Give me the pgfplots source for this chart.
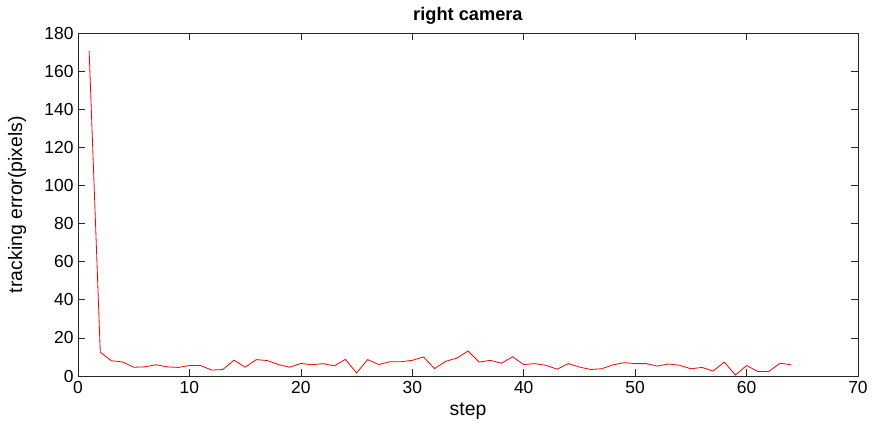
\documentclass[border=0pt]{standalone}
\usepackage{pgfplots}
\pgfplotsset{compat=1.18}
\usepackage{fontspec}
\setmainfont{Liberation Sans}
\definecolor{axgray}{RGB}{38,38,38}
\begin{document}
\begin{tikzpicture}
\useasboundingbox (-78bp,-47bp) rectangle (799bp,376bp);
\begin{axis}[
  at={(0,0)}, anchor=south west,
  scale only axis, width=780bp, height=343bp,
  xmin=0, xmax=70, ymin=0, ymax=180,
  xtick={0,10,...,70}, ytick={0,20,...,180},
  tick align=inside, major tick length=7bp,
  axis line style={axgray, line width=0.6bp},
  tick style={axgray, line width=0.6bp},
  every tick label/.append style={font=\fontsize{17.5}{20}\selectfont, text=black},
  /pgf/number format/assume math mode=true,
  xticklabel style={yshift=-2bp},
  yticklabel style={xshift=-1bp},
  title={\textbf{right camera}},
  every axis title shift=0pt,
  title style={font=\fontsize{18.3}{21}\selectfont, at={(axis description cs:0.5,1)}, anchor=center, yshift=17bp},
  xlabel={step}, ylabel={tracking error(pixels)},
  label style={font=\fontsize{19.5}{22}\selectfont},
  xlabel style={at={(axis description cs:0.5,-0.102)}, anchor=center},
  ylabel style={at={(axis description cs:-0.0782,0.5)}, anchor=center},
]
\addplot[red, line width=0.8bp] coordinates {
(1,170.5) (2,12.5) (3,8) (4,7.4) (5,4.6) (6,4.8) (7,5.9) (8,4.8) (9,4.5) (10,5.5)
(11,5.5) (12,3.1) (13,3.4) (14,8.3) (15,4.6) (16,8.6) (17,8.1) (18,6) (19,4.6) (20,6.6)
(21,5.9) (22,6.5) (23,5.3) (24,8.7) (25,1.6) (26,8.6) (27,6) (28,7.5) (29,7.5) (30,8.2)
(31,10) (32,3.9) (33,7.7) (34,9.4) (35,13.1) (36,7.3) (37,8.2) (38,6.7) (39,10.1) (40,6)
(41,6.5) (42,5.6) (43,3.6) (44,6.5) (45,4.7) (46,3.4) (47,3.8) (48,5.8) (49,7) (50,6.5)
(51,6.5) (52,5.2) (53,6.3) (54,5.6) (55,3.8) (56,4.5) (57,2.6) (58,7.3) (59,0.5) (60,5.5)
(61,2.4) (62,2.4) (63,6.7) (64,5.9)
};
\end{axis}
\end{tikzpicture}
\end{document}
